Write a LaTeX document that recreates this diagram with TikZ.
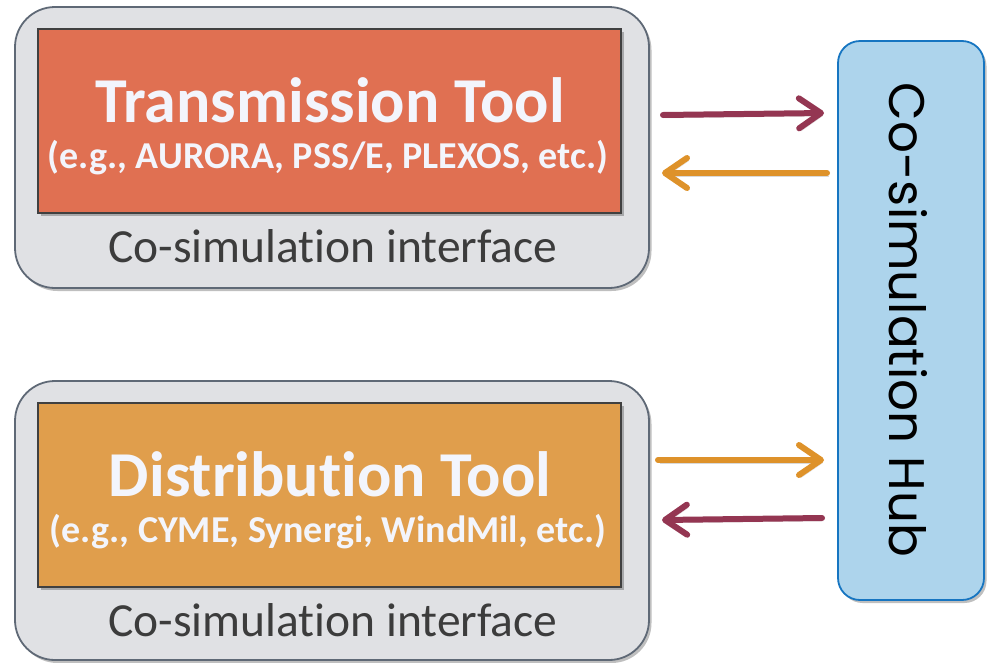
\documentclass[tikz,border=0pt]{standalone}
\usepackage{fontspec}
\setmainfont{Carlito}[Ligatures=NoCommon]
\newfontfamily\hubfont{Poppins}
\usetikzlibrary{arrows.meta,shadows}
\definecolor{redfill}{RGB}{224,112,82}
\definecolor{orangefill}{RGB}{224,158,76}
\definecolor{grayfill}{RGB}{224,225,228}
\definecolor{grayline}{RGB}{95,105,118}
\definecolor{hubfill}{RGB}{173,212,236}
\definecolor{hubline}{RGB}{22,117,193}
\definecolor{arrpurple}{RGB}{148,54,82}
\definecolor{arrorange}{RGB}{222,146,42}
\definecolor{txtwhite}{RGB}{243,245,252}
\definecolor{txtdark}{RGB}{60,60,60}
\tikzset{
  softshadow/.style={drop shadow={shadow xshift=2.5pt,shadow yshift=-3pt,opacity=0.25,fill=black}},
  outerbox/.style={draw=grayline,line width=1.8pt,fill=grayfill,rounded corners=40pt,softshadow},
  toolbox/.style={draw=black!75,line width=1.3pt,softshadow},
  hubbox/.style={draw=hubline,line width=1.8pt,fill=hubfill,rounded corners=22pt,softshadow},
  titletext/.style={font=\fontsize{64}{64}\selectfont\bfseries,text=txtwhite,anchor=base,inner sep=0pt},
  subtext/.style={font=\fontsize{38}{38}\selectfont\bfseries,text=txtwhite,anchor=base,inner sep=0pt},
  ifacetext/.style={font=\fontsize{47.5}{47.5}\selectfont,text=txtdark,anchor=base,inner sep=0pt},
  flow/.style={line width=6pt,line cap=round,-{Straight Barb[length=22pt,width=30pt,line width=6pt,round]},
    preaction={draw=black,opacity=0.15,transform canvas={xshift=1.5pt,yshift=-3pt}}},
}
\begin{document}
\begin{tikzpicture}[x=1pt,y=-1pt]
\useasboundingbox (0,0) rectangle (987,662);
% top group
\draw[outerbox] (15,7) rectangle (649,288);
\draw[toolbox,fill=redfill] (38,29) rectangle (621,213);
\node[titletext] (ttitle) at (330,122) {Transmission Tool};
\node[subtext] (tsub) at (328,168) {(e.g., AURORA, PSS/E, PLEXOS, etc.)};
\node[ifacetext] (tif) at (333,262) {Co-simulation interface};
% bottom group
\draw[outerbox] (15,381) rectangle (649,660);
\draw[toolbox,fill=orangefill] (38,403) rectangle (621,587);
\node[titletext] (dtitle) at (330,496) {Distribution Tool};
\node[subtext] (dsub) at (328,542) {(e.g., CYME, Synergi, WindMil, etc.)};
\node[ifacetext] (dif) at (333,636) {Co-simulation interface};
% hub
\draw[hubbox] (838,41) rectangle (984,600);
\node[rotate=-90,font=\hubfont\fontsize{50}{50}\selectfont,inner sep=0pt] (hub) at (908,320) {Co-simulation Hub};
% arrows
\coordinate (a1s) at (663,115); \coordinate (a1e) at (824,113);
\coordinate (a2s) at (827,173); \coordinate (a2e) at (662,173);
\coordinate (a3s) at (658,460); \coordinate (a3e) at (824,460);
\coordinate (a4s) at (822,518); \coordinate (a4e) at (662,520);
\draw[flow,arrpurple] (a1s) -- (a1e);
\draw[flow,arrorange] (a2s) -- (a2e);
\draw[flow,arrorange] (a3s) -- (a3e);
\draw[flow,arrpurple] (a4s) -- (a4e);
\end{tikzpicture}
\end{document}
